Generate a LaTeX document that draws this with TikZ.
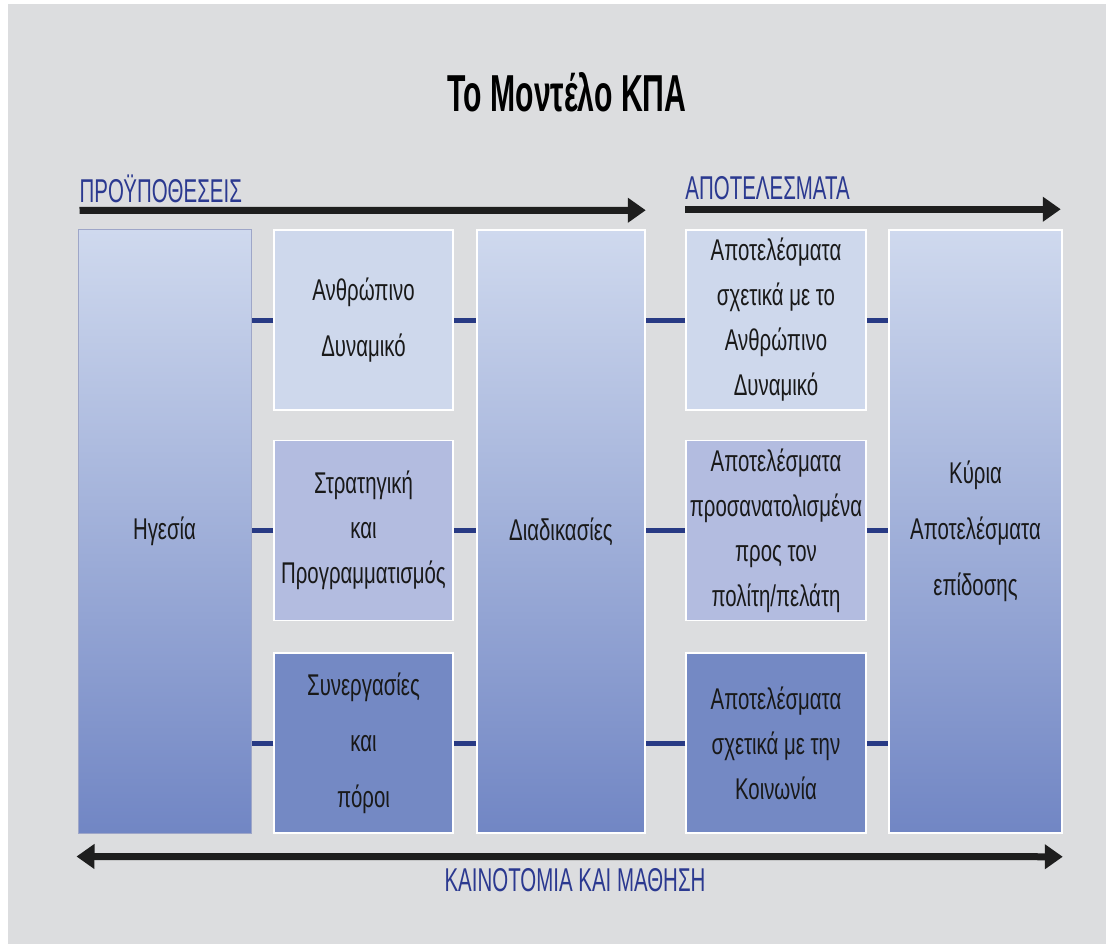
\documentclass[tikz,border=0pt]{standalone}
\usepackage{fontspec}
\usetikzlibrary{arrows.meta, positioning, calc}
\newfontfamily\boxfont[FakeStretch=0.68]{Liberation Sans}
\newfontfamily\capsfont[FakeStretch=0.62]{Liberation Sans}
\newfontfamily\titlefont[FakeStretch=0.58]{Liberation Sans}
\definecolor{bgGray}{HTML}{DCDDDF}
\definecolor{lightBlue}{HTML}{CED8EC}
\definecolor{midBlue}{HTML}{B3BCE0}
\definecolor{darkBlue}{HTML}{7489C4}
\definecolor{topBlue}{HTML}{CFD9EE}
\definecolor{botBlue}{HTML}{7186C4}
\definecolor{linkBlue}{HTML}{283A84}
\definecolor{labelBlue}{HTML}{2B3990}
\definecolor{arrowBlack}{HTML}{1E1E1E}

\begin{document}
\begin{tikzpicture}[x=1pt, y=-1pt,
    box/.style={draw=white, line width=1.5pt, inner sep=0pt, align=center,
        text=black!90, font=\boxfont\fontsize{30}{45}\selectfont,
        minimum width=179pt, minimum height=180pt},
    loose/.style={font=\boxfont\fontsize{30}{56}\selectfont},
    tallbox/.style={box, loose, minimum width=173pt, minimum height=603pt,
        top color=topBlue, bottom color=botBlue},
    link/.style={draw=linkBlue, line width=5pt},
    flow/.style={draw=arrowBlack, line width=7pt},
    tip/.tip={Triangle[length=18pt, width=24pt]},
    caption/.style={text=labelBlue, inner sep=0pt, font=\capsfont\fontsize{33}{36}\selectfont}]
    % Background
    \fill [white] (0,0) rectangle (1106,944);
    \fill [bgGray] (8,4) rectangle (1106,944);
    \useasboundingbox (0,0) rectangle (1106,944);
    % Title
    \node (title) at (567,92) {\titlefont\bfseries\fontsize{52}{56}\selectfont Το Μοντέλο ΚΠΑ};
    % Enablers
    \node [tallbox, draw=linkBlue!45, line width=1pt] (hg) at (164.5,531.5) {Ηγεσία};
    \node [box, loose, fill=lightBlue] (ad) at (363.5,320) {Ανθρώπινο\\Δυναμικό};
    \node [box, fill=midBlue] (sp) at (363.5,530.5) {Στρατηγική\\και\\Προγραμματισμός};
    \node [box, loose, fill=darkBlue] (sy) at (363.5,743) {Συνεργασίες\\και\\πόροι};
    \node [tallbox, minimum width=168pt] (dd) at (561,531.5) {Διαδικασίες};
    % Results
    \node [box, minimum width=180pt, fill=lightBlue] (ra) at (776,320) {Αποτελέσματα\\σχετικά με το\\Ανθρώπινο\\Δυναμικό};
    \node [box, minimum width=180pt, fill=midBlue] (rp) at (776,530.5) {Αποτελέσματα\\προσανατολισμένα\\προς τον\\πολίτη/πελάτη};
    \node [box, minimum width=180pt, fill=darkBlue] (rk) at (776,743) {Αποτελέσματα\\σχετικά με την\\Κοινωνία};
    \node [tallbox] (ky) at (975.5,531.5) {Κύρια\\Αποτελέσματα\\επίδοσης};
    % Links between the boxes
    \foreach \b in {ad, sp, sy} {
        \draw [link] (\b.west) -- (\b.west -| hg.east);
        \draw [link] (\b.east) -- (\b.east -| dd.west);
    }
    \foreach \b in {ra, rp, rk} {
        \draw [link] (\b.west) -- (\b.west -| dd.east);
        \draw [link] (\b.east) -- (\b.east -| ky.west);
    }
    % Flow arrows and their labels
    \coordinate (e1) at ([xshift=2pt, yshift=19pt]hg.north west);
    \coordinate (e2) at ([yshift=19pt]dd.north east);
    \coordinate (r1) at ([yshift=20pt]ra.north west);
    \coordinate (r2) at ([xshift=-2pt, yshift=20pt]ky.north east);
    \coordinate (l1) at ([xshift=-1pt, yshift=-23pt]hg.south west);
    \coordinate (l2) at ([yshift=-23pt]ky.south east);
    \draw [flow, -tip] (e1) -- (e2);
    \draw [flow, -tip] (r1) -- (r2);
    \draw [flow, tip-tip] (l1) -- (l2);
    \node [caption, anchor=south west] (pre) at ([yshift=7pt]e1) {ΠΡΟΫΠΟΘΕΣΕΙΣ};
    \node [caption, anchor=south west] (apo) at ([yshift=9pt]r1) {ΑΠΟΤΕΛΕΣΜΑΤΑ};
    \node [caption] (km) at (575,880) {ΚΑΙΝΟΤΟΜΙΑ ΚΑΙ ΜΑΘΗΣΗ};
\end{tikzpicture}
\end{document}
